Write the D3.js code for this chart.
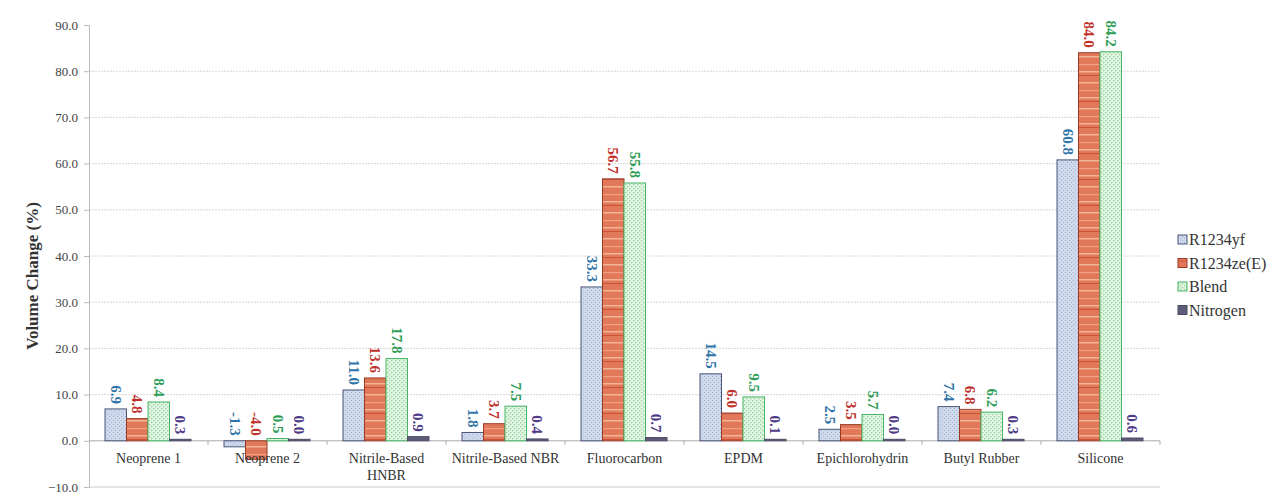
<!DOCTYPE html>
<html lang="en">
<head>
<meta charset="UTF-8">
<title>Volume Change</title>
<script src="https://cdn.jsdelivr.net/npm/d3@7"></script>
<style>
  body { margin: 0; background: #fff; }
  svg text { font-family: "Liberation Serif", "Times New Roman", Times, serif; }
  .grid line { stroke: #d6d6d6; stroke-dasharray: 2 1; }
</style>
</head>
<body>
<div id="chart"></div>
<script>
const categories = ['Neoprene 1', 'Neoprene 2', 'Nitrile-Based HNBR', 'Nitrile-Based NBR',
  'Fluorocarbon', 'EPDM', 'Epichlorohydrin', 'Butyl Rubber', 'Silicone']
const seriesNames = ['R1234yf', 'R1234ze(E)', 'Blend', 'Nitrogen']
const r1234yf = [6.9, -1.3, 11.0, 1.8, 33.3, 14.5, 2.5, 7.4, 60.8]
const r1234ze = [4.8, -4.0, 13.6, 3.7, 56.7, 6.0, 3.5, 6.8, 84.0]
const blend = [8.4, 0.5, 17.8, 7.5, 55.8, 9.5, 5.7, 6.2, 84.2]
const nitrogen = [0.3, 0.0, 0.9, 0.4, 0.7, 0.1, 0.0, 0.3, 0.6]
const yTicks = [-10, 0, 10, 20, 30, 40, 50, 60, 70, 80, 90]

const seriesValues = [r1234yf, r1234ze, blend, nitrogen]
const fills = ['url(#pBlue)', 'url(#pRed)', 'url(#pGreen)', '#5c5c78']
const strokes = ['#4a5578', '#9a3a25', '#45b565', '#4a4a66']
const labelColors = ['#2f74a8', '#c0302a', '#2e9e57', '#4e3a86']

const W = 1276, H = 495
const mLeft = 89, mRight = 1160, mTop = 25, mBottom = 487

const svg = d3.select('#chart').append('svg').attr('width', W).attr('height', H)

// patterns for the bar fills
const defs = svg.append('defs')
let pb = defs.append('pattern').attr('id', 'pBlue').attr('patternUnits', 'userSpaceOnUse')
  .attr('width', 4).attr('height', 4)
pb.append('rect').attr('width', 4).attr('height', 4).attr('fill', '#cfd9ec')
pb.append('rect').attr('x', 0).attr('y', 0).attr('width', 1).attr('height', 1).attr('fill', '#a5b4d2')
pb.append('rect').attr('x', 2).attr('y', 2).attr('width', 1).attr('height', 1).attr('fill', '#a5b4d2')

let pr = defs.append('pattern').attr('id', 'pRed').attr('patternUnits', 'userSpaceOnUse')
  .attr('width', 10).attr('height', 26)
pr.append('rect').attr('width', 10).attr('height', 26).attr('fill', '#e2785a')
pr.append('rect').attr('y', 4).attr('width', 10).attr('height', 1.5).attr('fill', '#f5b495')
pr.append('rect').attr('y', 12).attr('width', 10).attr('height', 1.2).attr('fill', '#f2a07f')
pr.append('rect').attr('y', 19).attr('width', 10).attr('height', 1.5).attr('fill', '#f5b495')
pr.append('rect').attr('y', 23).attr('width', 10).attr('height', 0.8).attr('fill', '#c9482e')

let pg = defs.append('pattern').attr('id', 'pGreen').attr('patternUnits', 'userSpaceOnUse')
  .attr('width', 4).attr('height', 4)
pg.append('rect').attr('width', 4).attr('height', 4).attr('fill', '#e3f5e2')
pg.append('rect').attr('x', 0).attr('y', 0).attr('width', 1.3).attr('height', 1.3).attr('fill', '#8fd49c')
pg.append('rect').attr('x', 2).attr('y', 2).attr('width', 1.3).attr('height', 1.3).attr('fill', '#8fd49c')

const y = d3.scaleLinear().domain([-10, 90]).range([mBottom, mTop])
const x0 = d3.scaleBand().domain(categories).range([mLeft, mRight])
const x1 = d3.scaleBand().domain(seriesNames)
  .range([16, x0.bandwidth() - 17])

// grid
svg.append('g').attr('class', 'grid')
  .selectAll('line').data(yTicks.filter(d => d !== 0 && d !== 90 && d !== -10)).enter().append('line')
  .attr('x1', mLeft).attr('x2', mRight)
  .attr('y1', d => y(d)).attr('y2', d => y(d))

// y axis
const yAxis = svg.append('g').attr('transform', `translate(${mLeft},0)`)
  .call(d3.axisLeft(y).tickValues(yTicks).tickSize(5).tickPadding(6).tickFormat(d3.format('.1f')))
yAxis.attr('font-family', null)
yAxis.select('.domain').attr('stroke', '#bbb')
yAxis.selectAll('.tick line').attr('stroke', '#bbb')
yAxis.selectAll('.tick text').attr('font-size', 13).attr('fill', '#444')

// zero line with category ticks
svg.append('line').attr('x1', mLeft).attr('x2', mRight).attr('y1', y(0)).attr('y2', y(0))
  .attr('stroke', '#aaa')
svg.append('g').selectAll('line').data(categories).enter().append('line')
  .attr('x1', d => x0(d) + x0.bandwidth()).attr('x2', d => x0(d) + x0.bandwidth())
  .attr('y1', y(0)).attr('y2', y(0) + 4).attr('stroke', '#aaa')
svg.append('line').attr('x1', mLeft).attr('x2', mRight).attr('y1', y(-10)).attr('y2', y(-10))
  .attr('stroke', '#ccc')

// bars
const groups = svg.append('g').selectAll('g').data(categories).enter().append('g')
  .attr('transform', d => `translate(${x0(d)},0)`)

groups.each(function (cat, ci) {
  const g = d3.select(this)
  seriesNames.forEach((s, si) => {
    const v = seriesValues[si][ci]
    const bx = x1(s), bw = x1.bandwidth()
    const h = Math.max(Math.abs(y(v) - y(0)), 1.5)
    g.append('rect')
      .attr('x', bx).attr('width', bw)
      .attr('y', v >= 0 ? y(0) - h : y(0))
      .attr('height', h)
      .attr('fill', fills[si])
      .attr('stroke', strokes[si]).attr('stroke-width', 1)
    const ly = (v >= 0 ? y(0) - h : y(0)) - 5
    g.append('text')
      .attr('transform', `translate(${bx + bw / 2 - 5},${ly}) rotate(90)`)
      .attr('text-anchor', 'end')
      .attr('font-size', 15).attr('font-weight', 'bold')
      .attr('fill', labelColors[si])
      .text(v.toFixed(1))
  })
})

// category labels
const catLab = svg.append('g').selectAll('text').data(categories).enter().append('text')
  .attr('x', d => x0(d) + x0.bandwidth() / 2)
  .attr('y', y(0) + 22)
  .attr('text-anchor', 'middle').attr('font-size', 14).attr('fill', '#333')
catLab.each(function (d) {
  const t = d3.select(this)
  if (d === 'Nitrile-Based HNBR') {
    t.append('tspan').attr('x', t.attr('x')).text('Nitrile-Based')
    t.append('tspan').attr('x', t.attr('x')).attr('dy', 17).text('HNBR')
  } else {
    t.text(d)
  }
})

// y title
svg.append('text')
  .attr('transform', `translate(38,${(y(90) + y(-10)) / 2 + 20}) rotate(-90)`)
  .attr('text-anchor', 'middle').attr('font-size', 17).attr('font-weight', 'bold')
  .attr('fill', '#333').text('Volume Change (%)')

// legend
const legend = svg.append('g').selectAll('g').data(seriesNames).enter().append('g')
  .attr('transform', (d, i) => `translate(1178,${240 + i * 23.5})`)
legend.append('rect').attr('x', 0).attr('y', -5).attr('width', 9).attr('height', 9)
  .attr('fill', (d, i) => fills[i]).attr('stroke', (d, i) => strokes[i])
legend.append('text').attr('x', 11).attr('y', 5).attr('font-size', 16).attr('fill', '#333')
  .text(d => d)
</script>
</body>
</html>
